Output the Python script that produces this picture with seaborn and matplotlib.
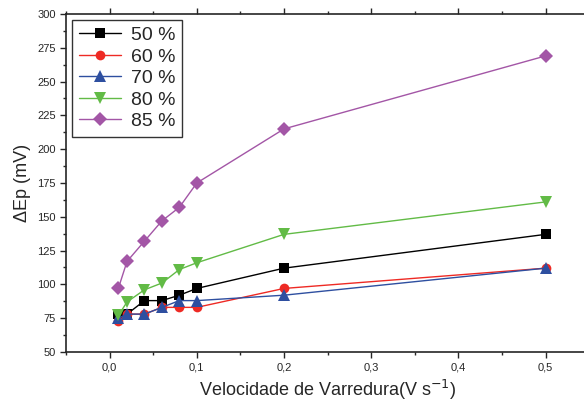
import pandas as pd
import numpy as np
import seaborn as sns
from matplotlib import pyplot as plt
from matplotlib.ticker import MultipleLocator, FuncFormatter

# dados
velocidade = [0.01, 0.02, 0.04, 0.06, 0.08, 0.1, 0.2, 0.5]
ep50 = [78, 78, 88, 88, 92, 97, 112, 137]
ep60 = [73, 78, 78, 83, 83, 83, 97, 112]
ep70 = [75, 78, 78, 83, 88, 88, 92, 112]
ep80 = [77, 87, 96, 101, 111, 116, 137, 161]
ep85 = [97, 117, 132, 147, 157, 175, 215, 269]
series = ["50 %", "60 %", "70 %", "80 %", "85 %"]

cores = ["#000000", "#EE2A24", "#2E4FA0", "#62BB46", "#A356A6"]
marcadores = ["s", "o", "^", "v", "D"]

df = pd.concat([
    pd.DataFrame({"v": velocidade, "ep": ys, "serie": nome})
    for nome, ys in zip(series, [ep50, ep60, ep70, ep80, ep85])
], ignore_index=True)

sns.set_style("ticks")
plt.rcParams['font.family'] = ['Liberation Sans', 'DejaVu Sans']

fig = plt.figure(figsize=(5.84, 4.03), dpi=100)
ax = fig.add_axes([0.113, 0.1266, 0.896, 0.8387])

sns.lineplot(ax=ax, data=df, x="v", y="ep", hue="serie", style="serie",
             palette=dict(zip(series, cores)), markers=dict(zip(series, marcadores)),
             dashes=False, markersize=7, markeredgewidth=0, linewidth=1)

# triangulos um pouco maiores, como no original
for ln in ax.lines:
    if ln.get_marker() in ("^", "v"):
        ln.set_markersize(8.5)

ax.set_xlim(-0.05, 0.55)
ax.set_ylim(50, 300)
ax.xaxis.set_major_locator(MultipleLocator(0.1))
ax.xaxis.set_minor_locator(MultipleLocator(0.05))
ax.yaxis.set_major_locator(MultipleLocator(25))
ax.yaxis.set_minor_locator(MultipleLocator(12.5))
ax.xaxis.set_major_formatter(FuncFormatter(lambda x, p: f"{x:.1f}".replace(".", ",")))
ax.tick_params(axis="both", which="major", labelsize=8, length=4, width=1, direction="out",
               top=True)
ax.tick_params(axis="both", which="minor", length=2.5, width=1, direction="out", top=True)
ax.tick_params(axis="x", labeltop=False)
for s in ["left", "bottom", "top"]:
    ax.spines[s].set_linewidth(1.2)
ax.spines["right"].set_visible(False)

ax.set_xlabel("Velocidade de Varredura(V s$^{-1}$)", fontsize=13)
ax.set_ylabel("ΔEp (mV)", fontsize=13)

handles, labels = ax.get_legend_handles_labels()
for h in handles:
    if h.get_marker() in ("^", "v"):
        h.set_markersize(8.5)
leg = ax.legend(handles, labels, loc="upper left", fontsize=14, frameon=True, fancybox=False,
                edgecolor="black", borderaxespad=0.3, handlelength=2.2, handletextpad=0.5,
                labelspacing=0.2, borderpad=0.35, title=None)
leg.get_frame().set_linewidth(1)

fig.savefig("out.png", dpi=100)
